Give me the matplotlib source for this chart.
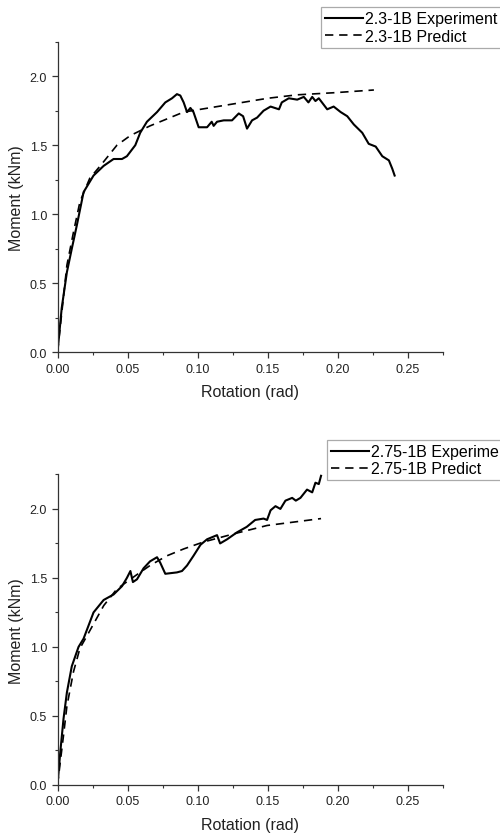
import matplotlib
matplotlib.use('Agg')
import matplotlib.pyplot as plt
from matplotlib.ticker import MultipleLocator, FormatStrFormatter

plt.rcParams['font.family'] = ['Liberation Sans', 'DejaVu Sans']

# 2.3-1B test
exp1_x = [0.0, 0.003, 0.0067, 0.0102, 0.0138, 0.0186, 0.0257, 0.0329, 0.040, 0.046, 0.0495,
          0.0555, 0.059, 0.0638, 0.071, 0.0769, 0.0817, 0.0852, 0.0876, 0.090, 0.0924, 0.0948,
          0.097, 0.1007, 0.1067, 0.110, 0.1114, 0.1138, 0.1186, 0.1245, 0.1293, 0.1324, 0.1352,
          0.1388, 0.1424, 0.147, 0.152, 0.158, 0.160, 0.165, 0.171, 0.1757, 0.179, 0.1817,
          0.184, 0.1864, 0.1924, 0.197, 0.202, 0.2067, 0.2114, 0.2174, 0.222, 0.227, 0.2317,
          0.2364, 0.2388, 0.2405]
exp1_y = [0.0, 0.32, 0.58, 0.75, 0.92, 1.16, 1.28, 1.35, 1.40, 1.40, 1.42,
          1.50, 1.59, 1.67, 1.74, 1.81, 1.84, 1.87, 1.86, 1.81, 1.74, 1.77,
          1.74, 1.63, 1.63, 1.67, 1.64, 1.67, 1.68, 1.68, 1.73, 1.71, 1.62,
          1.68, 1.70, 1.75, 1.78, 1.76, 1.81, 1.84, 1.83, 1.85, 1.81, 1.85,
          1.82, 1.84, 1.76, 1.78, 1.74, 1.71, 1.65, 1.59, 1.51, 1.49, 1.42,
          1.39, 1.33, 1.28]
pred1_x = [0.0, 0.0067, 0.0114, 0.016, 0.023, 0.0317, 0.0424, 0.052, 0.066, 0.078,
           0.090, 0.102, 0.126, 0.150, 0.171, 0.197, 0.2257]
pred1_y = [0.0, 0.63, 0.87, 1.09, 1.26, 1.365, 1.50, 1.57, 1.64, 1.69,
           1.74, 1.76, 1.80, 1.84, 1.865, 1.88, 1.90]

# 2.75-1B test
exp2_x = [0.0, 0.002, 0.0043, 0.0067, 0.0102, 0.015, 0.0186, 0.0257, 0.0329, 0.040, 0.046,
          0.0495, 0.052, 0.0538, 0.0567, 0.0614, 0.066, 0.071, 0.0733, 0.0769, 0.0852, 0.0888,
          0.0924, 0.097, 0.102, 0.1067, 0.1138, 0.116, 0.121, 0.128, 0.135, 0.141, 0.147,
          0.1495, 0.152, 0.1555, 0.159, 0.1626, 0.1674, 0.170, 0.1733, 0.178, 0.1817, 0.184,
          0.1864, 0.188]
exp2_y = [0.0, 0.24, 0.48, 0.67, 0.86, 1.00, 1.06, 1.25, 1.34, 1.38, 1.44,
          1.50, 1.55, 1.47, 1.49, 1.57, 1.62, 1.65, 1.61, 1.53, 1.54, 1.55,
          1.59, 1.66, 1.74, 1.78, 1.81, 1.75, 1.78, 1.83, 1.87, 1.92, 1.93,
          1.92, 1.99, 2.02, 2.00, 2.06, 2.08, 2.06, 2.08, 2.14, 2.12, 2.19,
          2.18, 2.24]
pred2_x = [0.0, 0.0043, 0.0067, 0.0114, 0.016, 0.021, 0.033, 0.0424, 0.054, 0.066, 0.078,
           0.090, 0.104, 0.126, 0.1495, 0.188]
pred2_y = [0.0, 0.36, 0.57, 0.82, 0.99, 1.08, 1.30, 1.42, 1.505, 1.59, 1.66,
           1.71, 1.76, 1.82, 1.88, 1.93]

panels = [
    (exp1_x, exp1_y, pred1_x, pred1_y, '2.3-1B', [0.115, 0.578, 0.771, 0.371], (0.642, 0.990)),
    (exp2_x, exp2_y, pred2_x, pred2_y, '2.75-1B', [0.115, 0.061, 0.771, 0.371], (0.654, 0.473)),
]

fig = plt.figure(figsize=(5, 8.37), dpi=100)
axis_color = '#333333'

for ex, ey, px, py, name, rect, anchor in panels:
    ax = fig.add_axes(rect)
    ax.plot(ex, ey, color='black', lw=1.5, label=f'{name} Experiment')
    ax.plot(px, py, color='black', lw=1.2, ls=(0, (5, 3.5)), label=f'{name} Predict')
    ax.set_xlim(0, 0.275)
    ax.set_ylim(0, 2.25)
    ax.xaxis.set_major_locator(MultipleLocator(0.05))
    ax.xaxis.set_minor_locator(MultipleLocator(0.025))
    ax.yaxis.set_major_locator(MultipleLocator(0.5))
    ax.yaxis.set_minor_locator(MultipleLocator(0.25))
    ax.xaxis.set_major_formatter(FormatStrFormatter('%.2f'))
    ax.yaxis.set_major_formatter(FormatStrFormatter('%.1f'))
    for s in ['top', 'right']:
        ax.spines[s].set_visible(False)
    for s in ['left', 'bottom']:
        ax.spines[s].set_color(axis_color)
        ax.spines[s].set_linewidth(0.9)
    ax.tick_params(which='major', direction='out', length=4, width=0.9, color=axis_color,
                   labelsize=9, labelcolor='#222222')
    ax.tick_params(which='minor', direction='out', length=2.5, width=0.8, color=axis_color)
    ax.set_xlabel('Rotation (rad)', fontsize=11.5, color='#222222', labelpad=7)
    ax.set_ylabel('Moment (kNm)', fontsize=11.5, color='#222222', labelpad=4)
    leg = ax.legend(loc='upper left', bbox_to_anchor=anchor, bbox_transform=fig.transFigure,
                    borderaxespad=0, fontsize=11.5, handlelength=2.4, handletextpad=0.1,
                    labelspacing=0.15, borderpad=0.25, fancybox=False, framealpha=1)
    leg.get_frame().set_edgecolor('#aaaaaa')
    leg.get_frame().set_linewidth(0.9)

fig.savefig('out.png', dpi=100)
